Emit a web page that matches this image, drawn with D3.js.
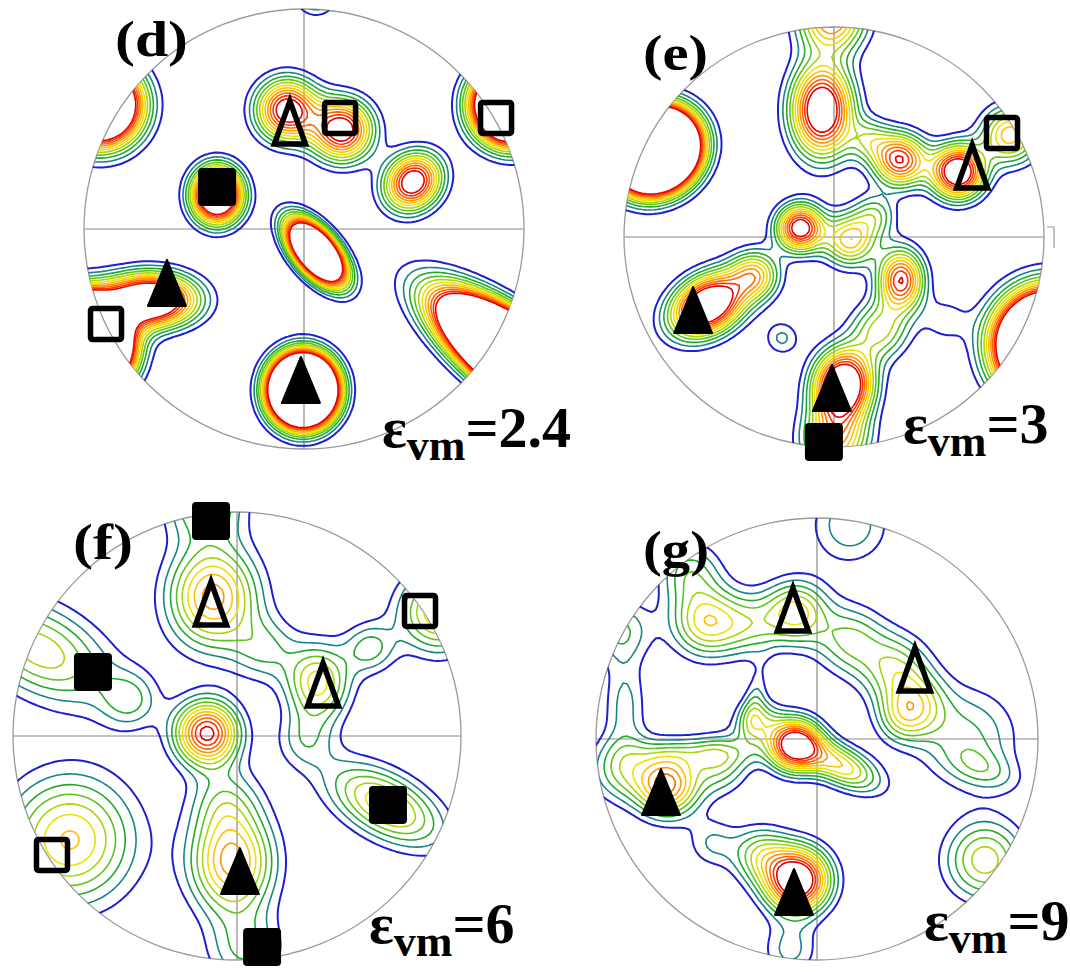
<!DOCTYPE html>
<html>
<head>
<meta charset="utf-8">
<script src="https://cdn.jsdelivr.net/npm/d3@7"></script>
<style>
  html, body { margin: 0; padding: 0; background: #fff; }
  svg { display: block; }
</style>
</head>
<body>
<svg id="chart" width="1070" height="972"></svg>
<script>
// Contour levels (multiples of random) and their line colours, lowest first.
const levels = [1.0, 1.6, 2.2, 2.8, 3.4, 4.0, 4.6, 5.2, 5.8, 6.4, 7.0];
const levelColors = ["#1f1fd2", "#178585", "#1faa2a", "#5cc41a", "#a9d60a",
                     "#ece200", "#ffc200", "#ff9800", "#ff6800", "#ff3200", "#e60000"];

// Orientation density components per pole figure:
// [x, y, peak intensity, spread along axis, spread across axis, axis angle in degrees]
// x, y are projected coordinates on the unit circle (y up).
const peaksD = [
  [-0.927, 0.564, 18, 0.118, 0.118, 0],
  [-0.077, 0.541, 8, 0.095, 0.095, 0],
  [0.173, 0.450, 8, 0.095, 0.095, 0],
  [-0.395, 0.155, 12, 0.086, 0.077, 90],
  [0.495, 0.214, 8.3, 0.095, 0.082, 45],
  [0.055, -0.105, 20, 0.111, 0.056, -50],
  [0.945, 0.564, 24, 0.108, 0.108, 0],
  [-1.018, -0.527, 56, 0.118, 0.118, 0],
  [-0.700, -0.323, 11, 0.140, 0.080, 0],
  [-0.005, -0.732, 35, 0.095, 0.089, 90],
  [1.005, -0.618, 40, 0.264, 0.091, -37],
  [0.055, 1.068, 3, 0.064, 0.064, 0]
];
const peaksE = [
  [-0.852, 0.414, 40, 0.120, 0.108, 35],
  [-0.057, 0.605, 9, 0.150, 0.100, 90],
  [-0.010, 1.043, 6, 0.110, 0.110, 0],
  [0.314, 0.367, 7, 0.086, 0.086, 0],
  [0.590, 0.310, 9, 0.086, 0.086, 0],
  [0.838, 0.486, 5, 0.095, 0.095, 0],
  [0.171, 0.462, 2.5, 0.070, 0.070, 0],
  [0.195, 0.105, 2.5, 0.070, 0.070, 0],
  [-0.162, 0.043, 8, 0.076, 0.076, 0],
  [0.076, -0.014, 5, 0.086, 0.086, 0],
  [-0.600, -0.324, 10, 0.130, 0.090, 31],
  [-0.376, -0.181, 4.5, 0.080, 0.080, 0],
  [-0.248, -0.481, 1.75, 0.060, 0.060, 0],
  [0.319, -0.205, 7, 0.100, 0.075, 90],
  [0.219, -0.443, 3.5, 0.095, 0.095, 0],
  [0.043, -0.705, 10, 0.114, 0.095, 80],
  [0.005, -0.967, 5, 0.110, 0.110, 0],
  [0.529, -0.395, 1.3, 0.080, 0.080, 0],
  [1.029, -0.514, 32, 0.148, 0.148, 0]
];
const peaksF = [
  [-0.107, 0.621, 5.5, 0.160, 0.140, 90],
  [-0.143, 1.054, 3.2, 0.125, 0.125, 0],
  [0.900, 0.554, 4.6, 0.125, 0.125, 0],
  [0.594, 0.393, 2.4, 0.080, 0.080, 0],
  [0.362, 0.237, 4.3, 0.120, 0.100, 90],
  [-0.134, 0.013, 7.3, 0.098, 0.098, 0],
  [-0.879, 0.384, 3.8, 0.250, 0.140, -28],
  [-0.478, 0.161, 2, 0.090, 0.090, 0],
  [-0.022, -0.563, 5.5, 0.160, 0.130, 90],
  [0.036, -0.955, 2.2, 0.120, 0.120, 0],
  [-0.054, -0.286, 2, 0.110, 0.110, 0],
  [0.661, -0.308, 4.5, 0.200, 0.100, -29],
  [0.304, -0.018, 1.7, 0.090, 0.090, 0],
  [-0.746, -0.464, 4.7, 0.200, 0.200, 0],
  [0.125, 0.384, 2, 0.100, 0.100, 0]
];
const peaksG = [
  [-0.575, 0.756, 2.4, 0.100, 0.100, 0],
  [-0.891, 0.493, 2.2, 0.100, 0.100, 0],
  [-0.502, 0.529, 4.2, 0.110, 0.110, 0],
  [-0.303, 0.516, 2.2, 0.100, 0.100, 0],
  [-0.095, 0.575, 4.2, 0.100, 0.100, 0],
  [0.149, 0.448, 2.8, 0.110, 0.110, 0],
  [0.353, 0.321, 3.0, 0.110, 0.110, 0],
  [0.443, 0.154, 3.2, 0.100, 0.100, 0],
  [-0.100, -0.027, 8, 0.081, 0.081, 0],
  [0.104, -0.118, 4.5, 0.136, 0.063, -27],
  [-0.271, 0.077, 3, 0.070, 0.070, 0],
  [-0.679, -0.208, 6, 0.100, 0.100, 0],
  [-0.439, -0.118, 2.5, 0.090, 0.090, 0],
  [-0.891, -0.140, 2.5, 0.100, 0.100, 0],
  [-0.090, -0.638, 9, 0.100, 0.100, 0],
  [-0.258, -0.525, 3, 0.090, 0.090, 0],
  [-0.122, -0.955, 1.8, 0.090, 0.090, 0],
  [0.760, -0.548, 3.8, 0.127, 0.127, 0],
  [0.149, 0.968, 2.1, 0.127, 0.127, 0],
  [0.683, 0.009, 2.3, 0.160, 0.160, 0],
  [-0.869, 0.154, 1.8, 0.160, 0.070, 90],
  [-0.529, -0.059, 1.6, 0.200, 0.050, 0],
  [-0.281, 0.176, 1.4, 0.120, 0.035, 80],
  [0.376, 0.086, 1.6, 0.080, 0.080, 0],
  [0.760, -0.140, 1.5, 0.120, 0.060, -20],
  [-0.475, -0.471, 1.6, 0.080, 0.080, 0]
];

// Ideal texture component positions: [type, x, y]
// FS filled square, OS open square, FT filled triangle, OT open triangle
const markersD = [["OT", -0.064, 0.486], ["OS", 0.164, 0.505], ["OS", 0.873, 0.505],
  ["FS", -0.395, 0.191], ["FT", -0.623, -0.245], ["OS", -0.900, -0.432], ["FT", -0.014, -0.686]];
const markersE = [["OT", 0.658, 0.338], ["OS", 0.800, 0.495], ["FT", -0.671, -0.348],
  ["FT", -0.010, -0.719], ["FS", -0.048, -0.976]];
const markersF = [["FS", -0.116, 0.960], ["OT", -0.116, 0.594], ["OS", 0.817, 0.558],
  ["FS", -0.643, 0.286], ["OT", 0.384, 0.232], ["FS", 0.674, -0.308], ["OS", -0.826, -0.531],
  ["FT", 0.013, -0.603], ["FS", 0.112, -0.942]];
const markersG = [["OT", -0.109, 0.588], ["OT", 0.443, 0.317], ["FT", -0.706, -0.240],
  ["FT", -0.104, -0.692]];

const panelNames = ["(d)", "(e)", "(f)", "(g)"];
const strainValues = ["2.4", "3", "6", "9"];

// Page layout of the four pole figures
const layout = [
  { cx: 304, cy: 229, r: 220, name: [115, 56, 73], strain: [382, 447] },
  { cx: 834, cy: 237, r: 210, name: [643, 70, 65], strain: [903, 443] },
  { cx: 237, cy: 736, r: 224, name: [73, 559, 60], strain: [369, 943] },
  { cx: 817, cy: 739, r: 221, name: [643, 566, 66], strain: [924, 940] }
];
const peakSets = [peaksD, peaksE, peaksF, peaksG];
const markerSets = [markersD, markersE, markersF, markersG];

const svg = d3.select("#chart");
const defs = svg.append("defs");

function density(peaks, x, y) {
  let s = 0;
  for (const [px, py, amp, sa, sb, ang] of peaks) {
    const t = ang * Math.PI / 180, dx = x - px, dy = y - py;
    const a = dx * Math.cos(t) + dy * Math.sin(t);
    const b = -dx * Math.sin(t) + dy * Math.cos(t);
    s += amp * Math.exp(-0.5 * ((a / sa) ** 2 + (b / sb) ** 2));
  }
  return s;
}

const n = 130, ext = 1.2, cell = 2 * ext / n;

layout.forEach((L, k) => {
  const g = svg.append("g");
  const xs = d3.scaleLinear().domain([-1, 1]).range([L.cx - L.r, L.cx + L.r]);
  const ys = d3.scaleLinear().domain([-1, 1]).range([L.cy + L.r, L.cy - L.r]);

  defs.append("clipPath").attr("id", "clip" + k)
    .append("circle").attr("cx", L.cx).attr("cy", L.cy).attr("r", L.r);

  // reference axes and projection circle
  g.append("line").attr("x1", xs(-1)).attr("x2", xs(1)).attr("y1", ys(0)).attr("y2", ys(0))
    .attr("stroke", "#8a8a8a").attr("stroke-width", 1.2);
  g.append("line").attr("x1", xs(0)).attr("x2", xs(0)).attr("y1", ys(1)).attr("y2", ys(-1))
    .attr("stroke", "#8a8a8a").attr("stroke-width", 1.2);
  g.append("circle").attr("cx", L.cx).attr("cy", L.cy).attr("r", L.r)
    .attr("fill", "none").attr("stroke", "#9a9a9a").attr("stroke-width", 1.3);

  // small reference tick at the RD end of the (e) figure
  if (k === 1) {
    g.append("path")
      .attr("d", `M${xs(1) + 3},${ys(0) - 10}H${xs(1) + 10}V${ys(0) + 11}`)
      .attr("fill", "none").attr("stroke", "#9a9a9a").attr("stroke-width", 1.2);
  }

  // density grid and iso-intensity lines
  const peaks = peakSets[k];
  const values = new Float64Array(n * n);
  for (let j = 0; j < n; j++) {
    for (let i = 0; i < n; i++) {
      values[j * n + i] = density(peaks, -ext + (i + 0.5) * cell, ext - (j + 0.5) * cell);
    }
  }
  const contours = d3.contours().size([n, n]).thresholds(levels)(values);
  const toPage = d3.geoTransform({
    point: function (x, y) {
      this.stream.point(xs(-ext + x * cell), ys(ext - y * cell));
    }
  });
  const path = d3.geoPath(toPage);
  g.append("g").attr("clip-path", `url(#clip${k})`)
    .selectAll("path").data(contours).join("path")
    .attr("d", path)
    .attr("fill", "none")
    .attr("stroke", (d, i) => levelColors[i])
    .attr("stroke-width", (d, i) => i === 0 ? 2 : 1.6)
    .attr("stroke-linejoin", "round");

  // texture component symbols
  const mk = g.append("g");
  markerSets[k].forEach(([type, mx, my]) => {
    const x = xs(mx), y = ys(my);
    if (type === "FS") {
      mk.append("rect").attr("x", x - 19).attr("y", y - 19).attr("width", 38).attr("height", 38)
        .attr("rx", 4).attr("fill", "#000");
    } else if (type === "OS") {
      mk.append("rect").attr("x", x - 15.5).attr("y", y - 15.5).attr("width", 31).attr("height", 31)
        .attr("rx", 2).attr("fill", "none").attr("stroke", "#000").attr("stroke-width", 5.5);
    } else if (type === "FT") {
      mk.append("path").attr("d", `M${x},${y - 23}L${x + 19},${y + 23}L${x - 19},${y + 23}Z`)
        .attr("fill", "#000").attr("stroke", "#000").attr("stroke-width", 2).attr("stroke-linejoin", "round");
    } else {
      mk.append("path").attr("d", `M${x},${y - 21}L${x + 15.5},${y + 22}L${x - 15.5},${y + 22}Z`)
        .attr("fill", "none").attr("stroke", "#000").attr("stroke-width", 5.5).attr("stroke-linejoin", "miter");
    }
  });

  // panel letter
  g.append("text").attr("x", L.name[0]).attr("y", L.name[1])
    .attr("font-family", "'Liberation Serif', 'Times New Roman', serif")
    .attr("font-weight", "bold").attr("font-size", 50)
    .attr("textLength", L.name[2]).attr("lengthAdjust", "spacingAndGlyphs")
    .text(panelNames[k]);

  // von Mises strain
  const t = g.append("text").attr("x", L.strain[0]).attr("y", L.strain[1])
    .attr("font-family", "'Liberation Serif', 'Times New Roman', serif")
    .attr("font-weight", "bold").attr("font-size", 58);
  t.append("tspan").text("ε");
  t.append("tspan").attr("font-size", 44).attr("dy", 13).text("vm");
  t.append("tspan").attr("dy", -13).text("=" + strainValues[k]);
});
</script>
</body>
</html>
